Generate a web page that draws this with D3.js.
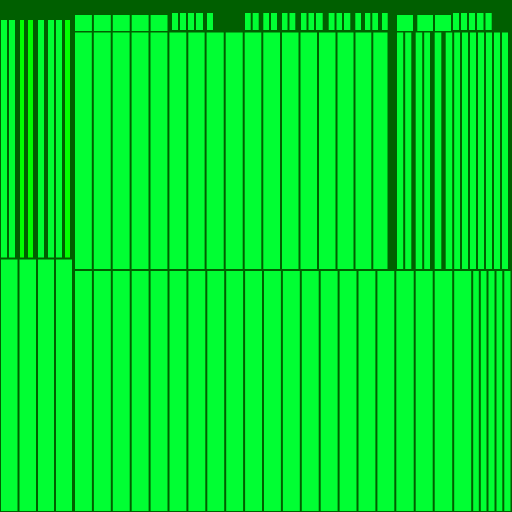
<!DOCTYPE html>
<html>
<head>
<meta charset="utf-8">
<script src="https://cdn.jsdelivr.net/npm/d3@7"></script>
<style>
  html, body { margin: 0; padding: 0; background: #005f00; }
  svg { display: block; }
</style>
</head>
<body>
<script>
// ---- data (relative sizes) ----
const groupNames  = ["A", "B"];
const groupWidths = [74, 438];

const rowHeightsA = [19, 239.5, 253.5];
const rowHeightsB = [12, 19.5, 238.5, 242];

// kinds: c = cell, w = wide top cell, b = bright cell, g = empty gap
const cellsATop = [["c",8],["c",8],["g",3],["b",6],["g",2],["b",7],["g",3],["c",8],["g",2],["c",8],["c",8],["g",1],["b",7],["g",3]];
const cellsABottom = [["c",18.5],["c",18.5],["c",18],["c",18],["g",1]];

const cellsBTop = [["w",18.9],["w",18.9],["w",18.9],["w",18.9],["w",18.9],["g",2.5],
  ["c",8],["c",8],["c",8],["c",9],["g",2],["c",8],["g",30],
  ["c",7.7],["c",8],["g",2.6],["c",7.7],["c",8],["g",3],["c",7.5],["c",7.8],["g",3.7],
  ["c",7.5],["c",7.5],["c",8.7],["g",4],["c",7.8],["c",7.5],["c",8.3],["g",3],
  ["c",7.7],["g",2],["c",7.3],["c",7.7],["g",2],["c",7.7],["g",7.3],
  ["w",18],["g",2.3],["w",17.7],["w",18],
  ["c",8],["c",8],["c",8],["c",8.5],["c",8.2],["g",19.3]];

const cellsBMid = [["c",18.8],["c",18.9],["c",18.9],["c",18.9],["c",18.9],["c",18.9],["c",18.3],
  ["c",19.1],["c",19.0],["c",18.6],["c",18.7],["c",18.5],["c",18.5],["c",18.5],["c",18.0],["c",17.8],["c",16.2],
  ["g",7.5],["c",8.2],["c",8.1],["g",2.4],["c",8.5],["c",7.8],["g",2.7],["c",8.6],["g",2.4],
  ["c",8.5],["c",7.8],["c",8],["c",8],["c",8],["c",8],["c",8],["c",8],["g",3]];

const cellsBBottom = [["c",18.9],["c",18.9],["c",18.9],["c",18.9],["c",18.9],["c",18.9],["c",18.9],["c",18.9],
  ["c",18.9],["c",18.9],["c",18.9],["c",18.9],["c",18.9],["c",18.9],["c",18.9],["c",18.9],["c",18.9],
  ["c",19.4],["c",19],["c",19.5],["c",19],
  ["c",7.6],["c",7.7],["c",8],["c",7.8],["c",8.2],["g",0.5]];

const rowsA = [null, cellsATop, cellsABottom];
const rowsB = [null, cellsBTop, cellsBMid, cellsBBottom];
const groupRowHeights = [rowHeightsA, rowHeightsB];
const groupRowCells = [rowsA, rowsB];

// ---- drawing ----
const W = 512, H = 512;
const colors = { c: "#00ff33", w: "#00ff33", b: "#00ff00" };
const bg = "#005f00";

const svg = d3.select("body").append("svg").attr("width", W).attr("height", H);
svg.append("rect").attr("width", W).attr("height", H).attr("fill", bg);

const gx = d3.scaleLinear().domain([0, d3.sum(groupWidths)]).range([0, W]);
const gStarts = d3.cumsum([0, ...groupWidths]);

const rects = [];
groupNames.forEach((name, gi) => {
  const x0 = gx(gStarts[gi]), x1 = gx(gStarts[gi + 1]);
  const heights = groupRowHeights[gi];
  const yScale = d3.scaleLinear().domain([0, d3.sum(heights)]).range([0, H]);
  const yStarts = d3.cumsum([0, ...heights]);
  groupRowCells[gi].forEach((cells, ri) => {
    if (!cells) return;
    const y0 = yScale(yStarts[ri]), y1 = yScale(yStarts[ri + 1]);
    const xScale = d3.scaleLinear().domain([0, d3.sum(cells, d => d[1])]).range([x0, x1]);
    const xStarts = d3.cumsum([0, ...cells.map(d => d[1])]);
    cells.forEach((d, ci) => {
      if (d[0] === "g") return;
      rects.push({ kind: d[0], x0: xScale(xStarts[ci]), x1: xScale(xStarts[ci + 1]), y0, y1, top: ri === 1 && gi === 1 });
    });
  });
});

svg.append("g").selectAll("rect").data(rects).join("rect")
  .attr("x", d => d.x0 + 1)
  .attr("width", d => Math.max(0, d.x1 - d.x0 - 2))
  .attr("y", d => d.y0 + (d.kind === "w" ? 3 : 1))
  .attr("height", d => Math.max(0, d.y1 - d.y0 - (d.kind === "w" ? 3.5 : (d.top ? 2.5 : 2))))
  .attr("fill", d => colors[d.kind]);
</script>
</body>
</html>
